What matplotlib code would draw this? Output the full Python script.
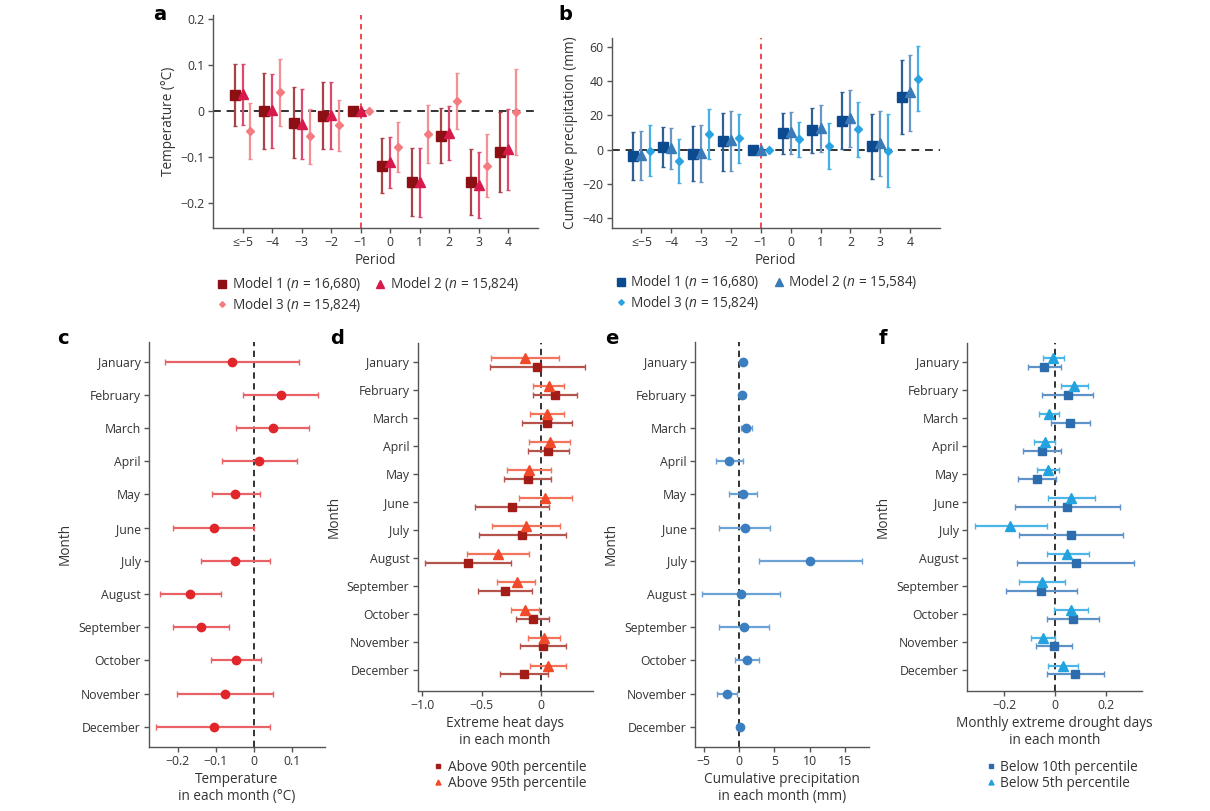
import numpy as np
import matplotlib.pyplot as plt

plt.rcParams['font.family'] = ['Open Sans', 'DejaVu Sans']
plt.rcParams['mathtext.fontset'] = 'custom'
plt.rcParams['mathtext.rm'] = 'Open Sans'
plt.rcParams['mathtext.it'] = 'Open Sans:italic'
plt.rcParams['axes.unicode_minus'] = True

periods = ['≤−5', '−4', '−3', '−2', '−1', '0', '1', '2', '3', '4']
months = ['January', 'February', 'March', 'April', 'May', 'June', 'July',
          'August', 'September', 'October', 'November', 'December']

# panel a: temperature (°C) by period, estimate / lower / upper
a_m1 = [0.035, 0.0, -0.025, -0.011, 0.0, -0.118, -0.153, -0.053, -0.153, -0.088]
a_m1_lo = [-0.033, -0.081, -0.102, -0.083, 0.0, -0.177, -0.227, -0.112, -0.225, -0.175]
a_m1_hi = [0.102, 0.082, 0.052, 0.062, 0.0, -0.059, -0.079, 0.006, -0.082, -0.002]
a_m2 = [0.037, 0.002, -0.027, -0.009, 0.0, -0.110, -0.153, -0.047, -0.160, -0.081]
a_m2_lo = [-0.030, -0.080, -0.104, -0.083, 0.0, -0.166, -0.229, -0.106, -0.232, -0.170]
a_m2_hi = [0.102, 0.081, 0.048, 0.062, 0.0, -0.057, -0.079, 0.011, -0.088, 0.004]
a_m3 = [-0.044, 0.041, -0.054, -0.031, 0.0, -0.077, -0.050, 0.022, -0.118, -0.001]
a_m3_lo = [-0.104, -0.032, -0.115, -0.086, 0.0, -0.131, -0.113, -0.039, -0.187, -0.094]
a_m3_hi = [0.017, 0.113, 0.004, 0.023, 0.0, -0.024, 0.014, 0.083, -0.050, 0.091]

# panel b: cumulative precipitation (mm) by period
b_m1 = [-3.7, 1.4, -2.7, 4.7, 0.0, 9.4, 11.3, 17.0, 2.1, 30.8]
b_m1_lo = [-17.9, -10.3, -18.7, -12.5, 0.0, -2.9, -2.3, 0.4, -17.2, 9.0]
b_m1_hi = [10.5, 13.1, 13.5, 21.4, 0.0, 21.6, 24.4, 33.7, 20.9, 52.6]
b_m2 = [-3.1, 0.8, -2.1, 5.5, 0.0, 10.3, 12.9, 18.5, 3.7, 33.5]
b_m2_lo = [-17.9, -11.5, -18.9, -12.5, 0.0, -2.5, -1.4, 1.4, -15.8, 10.9]
b_m2_hi = [10.9, 12.5, 14.2, 22.6, 0.0, 22.0, 26.3, 34.7, 22.8, 55.6]
b_m3 = [-0.6, -6.6, 9.2, 6.6, 0.0, 6.0, 2.3, 11.9, -0.6, 41.3]
b_m3_lo = [-15.8, -19.7, -5.7, -7.8, 0.0, -4.1, -11.3, -4.3, -22.2, 22.8]
b_m3_hi = [14.4, 6.2, 23.8, 20.7, 0.0, 16.0, 15.6, 27.7, 20.9, 60.6]

# panel c: monthly temperature
c_est = [-0.058, 0.069, 0.048, 0.013, -0.049, -0.105, -0.049, -0.167, -0.140, -0.048, -0.077, -0.106]
c_lo = [-0.233, -0.030, -0.047, -0.085, -0.109, -0.211, -0.140, -0.246, -0.213, -0.112, -0.201, -0.256]
c_hi = [0.116, 0.167, 0.143, 0.113, 0.014, 0.0, 0.042, -0.088, -0.065, 0.017, 0.048, 0.042]

# panel d: extreme heat days
d90 = [-0.034, 0.121, 0.054, 0.065, -0.110, -0.242, -0.155, -0.611, -0.299, -0.068, 0.020, -0.141]
d90_lo = [-0.428, -0.062, -0.155, -0.104, -0.307, -0.552, -0.518, -0.975, -0.527, -0.206, -0.172, -0.344]
d90_hi = [0.375, 0.304, 0.268, 0.237, 0.090, 0.070, 0.214, -0.248, -0.073, 0.068, 0.211, 0.065]
d95 = [-0.135, 0.068, 0.051, 0.076, -0.099, 0.037, -0.124, -0.358, -0.203, -0.132, 0.025, 0.062]
d95_lo = [-0.423, -0.068, -0.090, -0.096, -0.285, -0.186, -0.411, -0.620, -0.366, -0.254, -0.110, -0.090]
d95_hi = [0.155, 0.200, 0.197, 0.248, 0.090, 0.265, 0.161, -0.099, -0.048, -0.011, 0.166, 0.214]

# panel e: monthly cumulative precipitation (mm)
e_est = [0.55, 0.43, 1.04, -1.37, 0.57, 0.80, 10.1, 0.28, 0.71, 1.13, -1.70, 0.09]
e_lo = [0.25, 0.05, 0.33, -3.31, -1.37, -2.79, 2.88, -5.20, -2.84, -0.57, -3.17, -0.10]
e_hi = [0.85, 0.85, 1.84, 0.57, 2.50, 4.44, 17.45, 5.77, 4.26, 2.88, -0.28, 0.30]

# panel f: extreme drought days
f10 = [-0.042, 0.050, 0.061, -0.053, -0.070, 0.046, 0.062, 0.082, -0.054, 0.070, -0.004, 0.079]
f10_lo = [-0.106, -0.050, -0.016, -0.127, -0.145, -0.159, -0.141, -0.149, -0.192, -0.033, -0.077, -0.032]
f10_hi = [0.022, 0.151, 0.140, 0.022, 0.003, 0.255, 0.267, 0.314, 0.086, 0.172, 0.069, 0.192]
f5 = [-0.007, 0.075, -0.025, -0.041, -0.028, 0.065, -0.177, 0.049, -0.052, 0.062, -0.048, 0.030]
f5_lo = [-0.046, 0.022, -0.065, -0.082, -0.070, -0.029, -0.317, -0.033, -0.143, -0.004, -0.096, -0.028]
f5_hi = [0.037, 0.132, 0.016, 0.001, 0.015, 0.159, -0.033, 0.133, 0.041, 0.131, 0.001, 0.092]

SPINE = '#555555'
TXT = '#333333'
TICK_FS = 8.8
LAB_FS = 9.8


def style(ax):
    for s in ['top', 'right']:
        ax.spines[s].set_visible(False)
    for s in ['left', 'bottom']:
        ax.spines[s].set_color(SPINE)
        ax.spines[s].set_linewidth(1.0)
    ax.tick_params(colors=SPINE, labelcolor=TXT, labelsize=TICK_FS, length=3.5,
                   width=1, pad=2.5)


def ebar(ax, x, y, lo, hi, color, ecolor, marker, ms, horizontal=False, label=None):
    x = np.asarray(x, float)
    y = np.asarray(y, float)
    err = [y - np.asarray(lo), np.asarray(hi) - y]
    if horizontal:
        ax.errorbar(y, x, xerr=err, fmt='none', ecolor=ecolor, elinewidth=1.6,
                    capsize=2, capthick=1.0, zorder=2)
        ax.plot(y, x, ls='none', marker=marker, ms=ms, color=color, zorder=3, label=label)
    else:
        ax.errorbar(x, y, yerr=err, fmt='none', ecolor=ecolor, elinewidth=1.6,
                    capsize=1.5, capthick=1.0, zorder=2)
        ax.plot(x, y, ls='none', marker=marker, ms=ms, color=color, zorder=3, label=label)


fig = plt.figure(figsize=(12.1, 8.11), dpi=100)


def period_panel(rect, series, ylim, yticks, yticklabels, ylabel, names, leg_y):
    ax = fig.add_axes(rect)
    style(ax)
    idx = np.arange(len(periods))
    offs = [-0.27, 0.0, 0.27]
    ax.axhline(0, color=TXT, ls=(0, (4, 3)), lw=1.4, zorder=1)
    ax.axvline(4, color='#f03a3a', ls=(0, (3, 2.5)), lw=1.3, zorder=1)
    for (est, lo, hi, col, ecol, mk, ms), off, nm in zip(series, offs, names):
        ebar(ax, idx + off, est, lo, hi, col, ecol, mk, ms, label=nm)
    ax.set_xlim(-1, 10)
    ax.set_ylim(*ylim)
    ax.set_xticks(idx)
    ax.set_xticklabels(periods)
    ax.set_yticks(yticks)
    ax.set_yticklabels(yticklabels)
    ax.set_xlabel('Period', fontsize=LAB_FS, color=TXT, labelpad=3)
    ax.set_ylabel(ylabel, fontsize=LAB_FS, color=TXT, labelpad=3)
    h, l = ax.get_legend_handles_labels()
    order = [0, 2, 1]
    leg = ax.legend([h[i] for i in order], [l[i] for i in order], ncol=2,
                    loc='upper left', bbox_to_anchor=(-0.03, leg_y), frameon=False,
                    fontsize=LAB_FS, handletextpad=0.2, handlelength=1.0,
                    columnspacing=0.9, labelspacing=0.2, markerscale=0.75)
    for t in leg.get_texts():
        t.set_color(TXT)
    return ax


period_panel([0.176, 0.7189, 0.2686, 0.2626],
             [(a_m1, a_m1_lo, a_m1_hi, '#8c0f14', '#a84448', 's', 7.5),
              (a_m2, a_m2_lo, a_m2_hi, '#d7194b', '#dc4a70', '^', 7.5),
              (a_m3, a_m3_lo, a_m3_hi, '#f47c80', '#f48f93', 'D', 3.8)],
             (-0.253, 0.208), [0.2, 0.1, 0, -0.1, -0.2],
             ['0.2', '0.1', '0', '−0.1', '−0.2'], 'Temperature (°C)',
             [r'Model 1 ($\it{n}$ = 16,680)', r'Model 2 ($\it{n}$ = 15,824)',
              r'Model 3 ($\it{n}$ = 15,824)'], -0.165)

period_panel([0.5055, 0.7189, 0.2713, 0.2343],
             [(b_m1, b_m1_lo, b_m1_hi, '#0b4a8f', '#2f5f95', 's', 7.5),
              (b_m2, b_m2_lo, b_m2_hi, '#3a7ab8', '#6a96c4', '^', 7.5),
              (b_m3, b_m3_lo, b_m3_hi, '#2aa4e0', '#45b0e6', 'D', 3.8)],
             (-46, 65.4), [60, 40, 20, 0, -20, -40],
             ['60', '40', '20', '0', '−20', '−40'], 'Cumulative precipitation (mm)',
             [r'Model 1 ($\it{n}$ = 16,680)', r'Model 2 ($\it{n}$ = 15,584)',
              r'Model 3 ($\it{n}$ = 15,824)'], -0.175)


def month_panel(rect, series, offs, ylim, xlim, xticks, xticklabels, xlabel, legend=None):
    ax = fig.add_axes(rect)
    style(ax)
    yy = np.arange(len(months))
    ax.axvline(0, color='#222222', ls=(0, (3.5, 2.5)), lw=1.3, zorder=1)
    for (est, lo, hi, col, ecol, mk, ms, nm), off in zip(series, offs):
        ebar(ax, yy + off, est, lo, hi, col, ecol, mk, ms, horizontal=True, label=nm)
    ax.set_ylim(*ylim)
    ax.set_xlim(*xlim)
    ax.set_yticks(yy)
    ax.set_yticklabels(months)
    ax.set_xticks(xticks)
    ax.set_xticklabels(xticklabels)
    ax.set_xlabel(xlabel, fontsize=LAB_FS, color=TXT, labelpad=3, linespacing=1.15)
    ax.set_ylabel('Month', fontsize=LAB_FS, color=TXT, labelpad=4)
    if legend is not None:
        h, l = ax.get_legend_handles_labels()
        leg = ax.legend(h, l, loc='upper left', bbox_to_anchor=legend, frameon=False,
                        fontsize=LAB_FS, handletextpad=0.3, handlelength=0.8,
                        labelspacing=0.05, markerscale=0.55)
        for t in leg.get_texts():
            t.set_color(TXT)
    return ax


month_panel([0.1231, 0.0793, 0.1455, 0.4994],
            [(c_est, c_lo, c_hi, '#e0262b', '#e86266', 'o', 6, None)], [0.0],
            (11.6, -0.6), (-0.275, 0.185), [-0.2, -0.1, 0, 0.1],
            ['−0.2', '−0.1', '0', '0.1'], 'Temperature\nin each month (°C)')

month_panel([0.3452, 0.148, 0.1446, 0.4295],
            [(d90, d90_lo, d90_hi, '#a31d18', '#b5534d', 's', 6, 'Above 90th percentile'),
             (d95, d95_lo, d95_hi, '#f04a2a', '#f3745a', '^', 6.5, 'Above 95th percentile')],
            [0.16, -0.16], (11.75, -0.7), (-1.04, 0.44), [-1.0, -0.5, 0],
            ['−1.0', '−0.5', '0'], 'Extreme heat days\nin each month',
            legend=(0.015, -0.163))

month_panel([0.5746, 0.0793, 0.1436, 0.4994],
            [(e_est, e_lo, e_hi, '#3b7fc0', '#6ca3d6', 'o', 6, None)], [0.0],
            (11.6, -0.6), (-6.2, 18.4), [-5, 0, 5, 10, 15],
            ['−5', '0', '5', '10', '15'], 'Cumulative precipitation\nin each month (mm)')

month_panel([0.7992, 0.148, 0.1444, 0.4295],
            [(f10, f10_lo, f10_hi, '#2e6dad', '#5f92c6', 's', 6, 'Below 10th percentile'),
             (f5, f5_lo, f5_hi, '#22a3df', '#4cb6e7', '^', 6.5, 'Below 5th percentile')],
            [0.16, -0.16], (11.75, -0.7), (-0.348, 0.343), [-0.2, 0, 0.2],
            ['−0.2', '0', '0.2'], 'Monthly extreme drought days\nin each month',
            legend=(0.035, -0.163))

for lab, x, y in [('a', 160, 14), ('b', 565, 14), ('c', 63, 338),
                  ('d', 337, 338), ('e', 612, 338), ('f', 883, 338)]:
    fig.text(x / 1210, 1 - y / 811, lab, fontsize=14, fontweight='bold',
             ha='center', va='center', family='DejaVu Sans')

fig.savefig('out.png', dpi=100)
